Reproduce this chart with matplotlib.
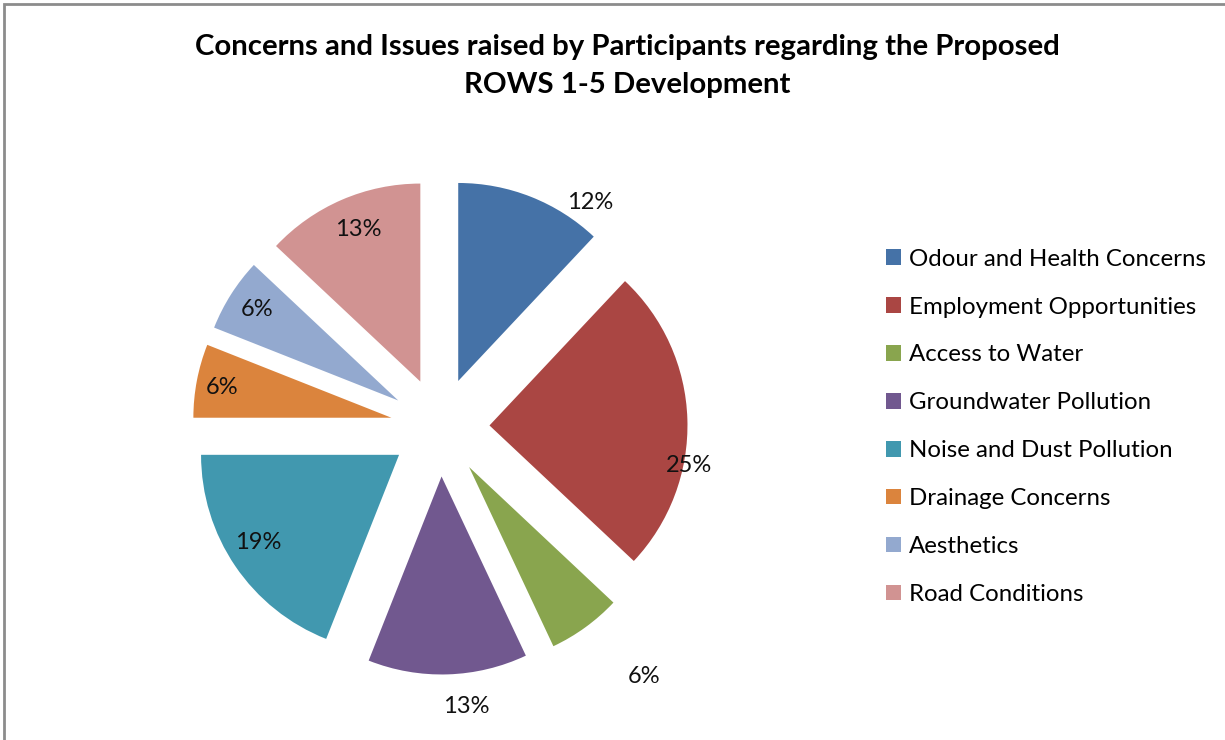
import matplotlib.pyplot as plt
import numpy as np
from matplotlib.patches import Rectangle

categories = ["Odour and Health Concerns", "Employment Opportunities", "Access to Water",
              "Groundwater Pollution", "Noise and Dust Pollution", "Drainage Concerns",
              "Aesthetics", "Road Conditions"]
shares = [12, 25, 6, 13, 19, 6, 6, 13]
colors = ["#4572A7", "#AA4643", "#89A54E", "#71588F", "#4198AF", "#DB843D", "#93A9CF", "#D19392"]

# label placement (distance from exploded slice centre, angular nudge in degrees)
label_dist = [1.12, 1.03, 1.38, 1.17, 0.84, 0.87, 0.85, 0.83]
label_nudge = [-14.8, -13.2, 3.9, 4.2, -2.2, 0.8, -0.5, -1.2]

plt.rcParams["font.family"] = ["Lato", "DejaVu Sans"]

W, H = 1225, 740
fig = plt.figure(figsize=(W / 100, H / 100), dpi=100)
fig.patches.append(Rectangle((4 / W, -0.1), 1.2, (H - 4) / H + 0.1, transform=fig.transFigure,
                             fill=False, edgecolor="#8c8c8c", linewidth=2))

# pie centre at (440, 427) px, radius 198 px
R, L = 198, 1.35
cx, cy = 440, 427
ax = fig.add_axes([(cx - L * R) / W, (H - cy - L * R) / H, 2 * L * R / W, 2 * L * R / H])
wedges, _ = ax.pie(shares, explode=[0.25] * len(shares), startangle=90, counterclock=False,
                   colors=colors, radius=1, wedgeprops=dict(linewidth=0))
ax.set_xlim(-L, L)
ax.set_ylim(-L, L)
ax.set_aspect("equal")
ax.axis("off")

for w, v, d, n in zip(wedges, shares, label_dist, label_nudge):
    mid = np.deg2rad((w.theta1 + w.theta2) / 2 + n)
    x0, y0 = w.center
    ax.text(x0 + d * np.cos(mid), y0 + d * np.sin(mid), f"{v}%",
            ha="center", va="center", fontsize=17, color="#111111")

fig.text(627 / W, 1 - 47 / H, "Concerns and Issues raised by Participants regarding the Proposed",
         ha="center", va="center", fontsize=21.2, fontweight="bold")
fig.text(627 / W, 1 - 85 / H, "ROWS 1-5 Development",
         ha="center", va="center", fontsize=21.2, fontweight="bold")

fig.legend(wedges, categories, loc="upper left", bbox_to_anchor=(876 / W, 1 - 239 / H),
           frameon=False, fontsize=17.3, handlelength=0.62, handleheight=0.62,
           handletextpad=0.35, labelspacing=1.12, borderaxespad=0)

fig.savefig("out.png", dpi=100)
